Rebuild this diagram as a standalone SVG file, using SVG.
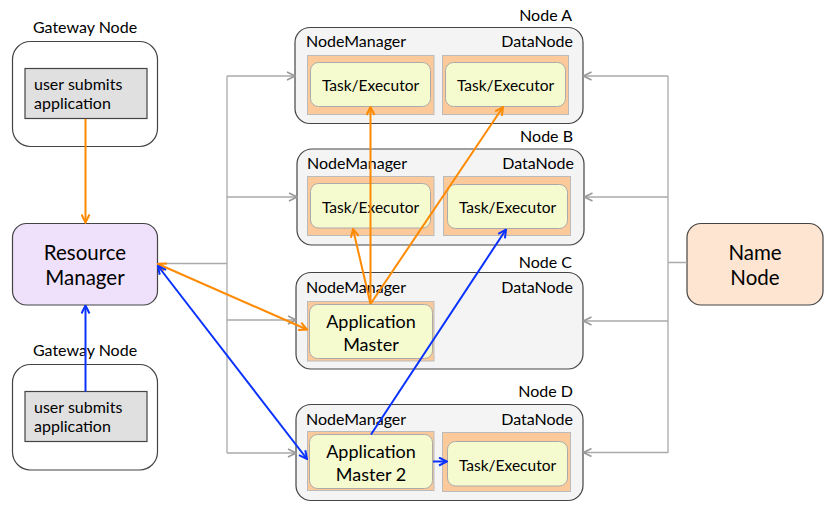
<svg xmlns="http://www.w3.org/2000/svg" width="827" height="507" viewBox="0 0 827 507">
<style>
text{font-family:Lato,"Open Sans","Liberation Sans",sans-serif;fill:#000}
.t15{font-size:16px}
.tk{font-size:15.5px}
.t18{font-size:18px}
.t20{font-size:20.5px}
.mid{text-anchor:middle}
.end{text-anchor:end}
.gw{fill:#fff;stroke:#444;stroke-width:1.2}
.usr{fill:#e0e0e0;stroke:#444;stroke-width:1.2}
.host{fill:#f4f4f4;stroke:#444;stroke-width:1.2}
.cont{fill:#fbc99a;stroke:#bbb;stroke-width:1}
.task{fill:#f6fbcf;stroke:#aaa;stroke-width:1}
.g{fill:none;stroke:#aaa;stroke-width:1.3}
.o{fill:none;stroke:#ff8a00;stroke-width:2}
.b{fill:none;stroke:#0a32ff;stroke-width:2}
</style>
<defs>
<marker id="mg" viewBox="0 0 10 10" refX="9" refY="5" markerWidth="10" markerHeight="10" markerUnits="userSpaceOnUse" orient="auto-start-reverse"><path d="M1,1 L9,5 L1,9" fill="none" stroke="#999" stroke-width="1.6"/></marker>
<marker id="mo" viewBox="0 0 10 10" refX="9" refY="5" markerWidth="10" markerHeight="10" markerUnits="userSpaceOnUse" orient="auto-start-reverse"><path d="M1,1 L9,5 L1,9" fill="none" stroke="#ff8a00" stroke-width="2"/></marker>
<marker id="mb" viewBox="0 0 10 10" refX="9" refY="5" markerWidth="10" markerHeight="10" markerUnits="userSpaceOnUse" orient="auto-start-reverse"><path d="M1,1 L9,5 L1,9" fill="none" stroke="#0a32ff" stroke-width="2"/></marker>
</defs>

<g id="gateway1">
<text class="t15 mid" x="85" y="33">Gateway Node</text>
<rect class="gw" x="12.5" y="41.5" width="145" height="105" rx="18"/>
<rect class="usr" x="25" y="68.5" width="122" height="50"/>
<text class="t15" x="34" y="90">user submits</text>
<text class="t15" x="34" y="109">application</text>
</g>

<g id="resourcemanager">
<rect x="12.5" y="223.5" width="145" height="81.5" rx="14" fill="#efe0fb" stroke="#444" stroke-width="1.2"/>
<text class="t20 mid" x="85" y="260">Resource</text>
<text class="t20 mid" x="85" y="285">Manager</text>
</g>

<g id="gateway2">
<text class="t15 mid" x="85" y="356">Gateway Node</text>
<rect class="gw" x="12.5" y="364.5" width="145" height="105.5" rx="18"/>
<rect class="usr" x="25" y="391.5" width="122" height="50"/>
<text class="t15" x="34" y="413">user submits</text>
<text class="t15" x="34" y="432">application</text>
</g>

<g id="nodeA">
<text class="t15 end" x="572" y="21">Node A</text>
<rect class="host" x="295" y="27.5" width="288" height="96" rx="15"/>
<text class="t15" x="306" y="47">NodeManager</text>
<text class="t15 end" x="573" y="47">DataNode</text>
<rect class="cont" x="307.5" y="55.5" width="126.5" height="59"/>
<rect class="task" x="310.5" y="62.5" width="120" height="44" rx="8"/>
<text class="tk mid" x="370.5" y="91">Task/Executor</text>
<rect class="cont" x="442.5" y="55.5" width="126" height="59"/>
<rect class="task" x="445.5" y="62.5" width="120" height="44" rx="8"/>
<text class="tk mid" x="505.5" y="91">Task/Executor</text>
</g>

<g id="nodeB">
<text class="t15 end" x="573" y="142">Node B</text>
<rect class="host" x="297" y="149" width="287" height="96" rx="15"/>
<text class="t15" x="307" y="168.5">NodeManager</text>
<text class="t15 end" x="574" y="168.5">DataNode</text>
<rect class="cont" x="307.5" y="176.5" width="126.5" height="59"/>
<rect class="task" x="310.5" y="183.5" width="120" height="44.5" rx="8"/>
<text class="tk mid" x="370.5" y="212.5">Task/Executor</text>
<rect class="cont" x="443.5" y="176.5" width="127" height="59"/>
<rect class="task" x="447.5" y="184.5" width="120" height="44" rx="8"/>
<text class="tk mid" x="507.5" y="213">Task/Executor</text>
</g>

<g id="nodeC">
<text class="t15 end" x="572" y="267.5">Node C</text>
<rect class="host" x="296" y="272.5" width="287" height="96.5" rx="15"/>
<text class="t15" x="306" y="293">NodeManager</text>
<text class="t15 end" x="573" y="293">DataNode</text>
<rect class="cont" x="307.5" y="301.5" width="126.5" height="59.5"/>
<rect class="task" x="309.5" y="304.5" width="123" height="54" rx="8"/>
<text class="t18 mid" x="371" y="327.5">Application</text>
<text class="t18 mid" x="371" y="351">Master</text>
</g>

<g id="nodeD">
<text class="t15 end" x="573" y="397">Node D</text>
<rect class="host" x="296" y="404.5" width="287" height="96" rx="15"/>
<text class="t15" x="306" y="425">NodeManager</text>
<text class="t15 end" x="573" y="425">DataNode</text>
<rect class="cont" x="307.5" y="431.5" width="126.5" height="59"/>
<rect class="task" x="309.5" y="434.5" width="123" height="54" rx="8"/>
<text class="t18 mid" x="371" y="457.5">Application</text>
<text class="t18 mid" x="371" y="481">Master 2</text>
<rect class="cont" x="442.5" y="432.5" width="128" height="59"/>
<rect class="task" x="447.5" y="441.5" width="120" height="44.5" rx="8"/>
<text class="tk mid" x="507.5" y="471">Task/Executor</text>
</g>

<g id="namenode">
<rect x="687" y="223.5" width="136" height="81.5" rx="14" fill="#fde5d2" stroke="#444" stroke-width="1.2"/>
<text class="t20 mid" x="755" y="260">Name</text>
<text class="t20 mid" x="755" y="285">Node</text>
</g>

<g id="connectors">
<path class="g" d="M158,263.5 H227 M227,76 V453 M668,76 V453 M687,262.5 H668"/>
<path class="g" d="M227,76 H295" marker-end="url(#mg)"/>
<path class="g" d="M227,197 H297" marker-end="url(#mg)"/>
<path class="g" d="M227,320 H296" marker-end="url(#mg)"/>
<path class="g" d="M227,453 H296" marker-end="url(#mg)"/>
<path class="g" d="M668,76 H583.5" marker-end="url(#mg)"/>
<path class="g" d="M668,197 H584.5" marker-end="url(#mg)"/>
<path class="g" d="M668,321 H583.5" marker-end="url(#mg)"/>
<path class="g" d="M668,452.5 H583.5" marker-end="url(#mg)"/>

<path class="o" d="M85.5,119 V222.5" marker-end="url(#mo)"/>
<path class="o" d="M158,264 L307,329.5" marker-start="url(#mo)" marker-end="url(#mo)"/>
<path class="o" d="M370.5,304 V107" marker-end="url(#mo)"/>
<path class="o" d="M370.5,304 L353,229" marker-end="url(#mo)"/>
<path class="o" d="M370.5,304 L503,107" marker-end="url(#mo)"/>

<path class="b" d="M85.5,391.5 V305.5" marker-end="url(#mb)"/>
<path class="b" d="M158,266 L307,459" marker-start="url(#mb)" marker-end="url(#mb)"/>
<path class="b" d="M371,434.5 L506,229.5" marker-end="url(#mb)"/>
<path class="b" d="M433,461.5 H447" marker-end="url(#mb)"/>
</g>
</svg>
